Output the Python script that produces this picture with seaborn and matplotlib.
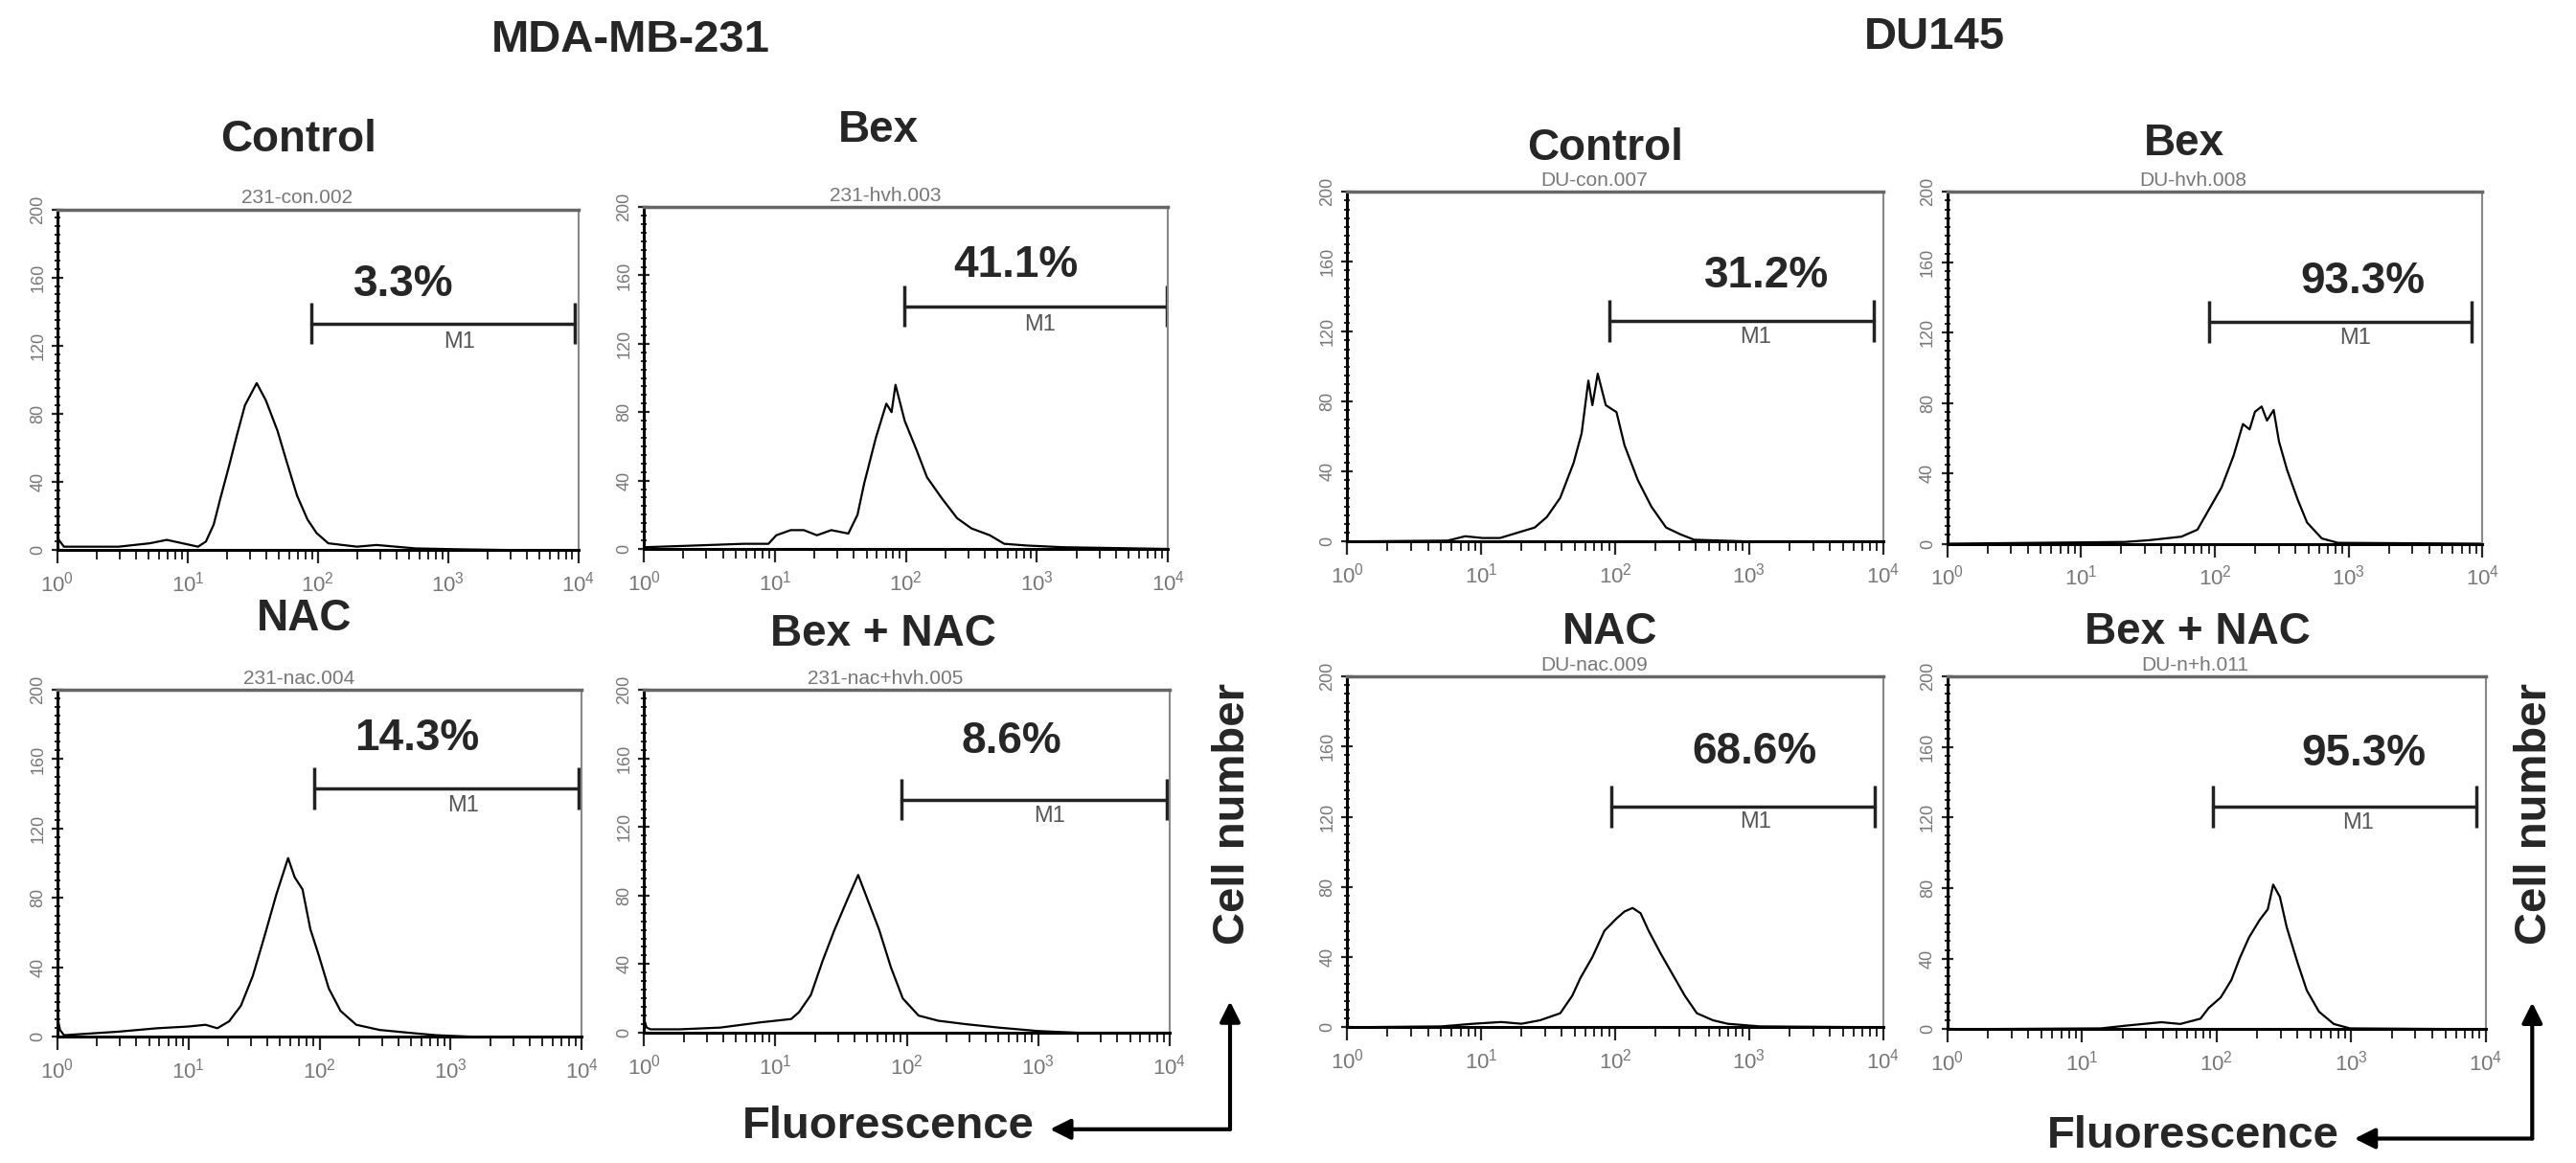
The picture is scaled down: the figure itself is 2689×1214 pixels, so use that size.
import numpy as np
import pandas as pd
import matplotlib
matplotlib.use("Agg")
import matplotlib.pyplot as plt
from matplotlib.ticker import MultipleLocator, LogLocator, NullFormatter
import seaborn as sns

# Datos: posición en décadas (log10 de fluorescencia) y número de células
mda_ctrl_logx = [0.0, 0.01, 0.05, 0.17, 0.47, 0.71, 0.84, 0.96, 1.08, 1.14, 1.20, 1.25, 1.32, 1.38, 1.44,
                 1.53, 1.60, 1.69, 1.76, 1.84, 1.92, 1.99, 2.08, 2.30, 2.45, 2.75, 3.06, 3.5, 4.0]
mda_ctrl_count = [10, 6, 2, 2, 2, 4, 6, 4, 2, 5, 15, 30, 50, 68, 85,
                  98, 88, 70, 52, 32, 18, 10, 4, 2, 3, 1, 0.5, 0, 0]

mda_bex_logx = [0.0, 0.39, 0.76, 0.95, 1.01, 1.12, 1.22, 1.32, 1.43, 1.56, 1.63, 1.68, 1.77, 1.85,
                1.89, 1.92, 1.99, 2.08, 2.16, 2.27, 2.39, 2.50, 2.64, 2.75, 2.92, 3.20, 4.0]
mda_bex_count = [1, 2, 3, 3, 8, 11, 11, 8, 11, 9, 20, 38, 65, 85,
                 80, 96, 75, 58, 42, 30, 18, 12, 8, 3, 2, 1, 0]

mda_nac_logx = [0.0, 0.02, 0.05, 0.46, 0.76, 1.00, 1.13, 1.22, 1.31, 1.40, 1.49, 1.58, 1.67, 1.76,
                1.81, 1.87, 1.93, 1.99, 2.07, 2.16, 2.28, 2.46, 2.74, 2.89, 3.2, 4.0]
mda_nac_count = [11, 4, 1, 3, 5, 6, 7, 5, 9, 18, 35, 58, 82, 103,
                 92, 85, 62, 48, 28, 15, 7, 4, 2, 1, 0, 0]

mda_bexnac_logx = [0.0, 0.02, 0.05, 0.27, 0.58, 0.88, 1.12, 1.18, 1.27, 1.36, 1.45, 1.55, 1.63, 1.70,
                   1.79, 1.88, 1.97, 2.09, 2.24, 2.45, 2.70, 3.00, 3.3, 4.0]
mda_bexnac_count = [8, 3, 2, 2, 3, 6, 8, 12, 22, 42, 60, 78, 92, 78,
                    60, 38, 20, 10, 7, 5, 3, 1, 0, 0]

du_ctrl_logx = [0.0, 0.75, 0.88, 1.01, 1.14, 1.27, 1.40, 1.49, 1.59, 1.69, 1.75, 1.80, 1.83, 1.87,
                1.93, 2.01, 2.07, 2.17, 2.27, 2.38, 2.49, 2.59, 3.0, 4.0]
du_ctrl_count = [0, 0.5, 3, 2, 2, 5, 8, 14, 25, 45, 62, 92, 78, 96,
                 78, 74, 55, 35, 20, 8, 4, 1, 0, 0]

du_bex_logx = [0.0, 1.33, 1.51, 1.75, 1.87, 1.96, 2.05, 2.14, 2.21, 2.26, 2.30, 2.35, 2.39, 2.44,
               2.48, 2.54, 2.62, 2.69, 2.80, 2.92, 4.0]
du_bex_count = [0, 1, 2, 4, 8, 20, 32, 50, 68, 65, 75, 78, 70, 76,
                58, 42, 25, 12, 3, 0.5, 0]

du_nac_logx = [0.0, 0.70, 0.94, 1.15, 1.30, 1.44, 1.59, 1.68, 1.74, 1.83, 1.92, 2.01, 2.07, 2.13,
               2.19, 2.25, 2.34, 2.43, 2.52, 2.61, 2.73, 2.84, 3.08, 4.0]
du_nac_count = [0, 0.5, 2, 3, 2, 4, 8, 18, 28, 40, 55, 62, 66, 68,
                65, 55, 42, 30, 18, 8, 4, 2, 0.5, 0]

du_bexnac_logx = [0.0, 1.14, 1.32, 1.59, 1.73, 1.88, 1.94, 2.03, 2.11, 2.17, 2.24, 2.32, 2.38, 2.42,
                  2.47, 2.52, 2.60, 2.67, 2.76, 2.87, 2.99, 4.0]
du_bexnac_count = [0, 0.5, 2, 4, 3, 6, 12, 18, 28, 40, 52, 62, 68, 82,
                   75, 58, 38, 22, 10, 3, 0.5, 0]

panel_titles = ["Control", "Bex", "NAC", "Bex + NAC", "Control", "Bex", "NAC", "Bex + NAC"]
sample_names = ["231-con.002", "231-hvh.003", "231-nac.004", "231-nac+hvh.005",
                "DU-con.007", "DU-hvh.008", "DU-nac.009", "DU-n+h.011"]
pct_labels = ["3.3%", "41.1%", "14.3%", "8.6%", "31.2%", "93.3%", "68.6%", "95.3%"]
# marcador M1 (inicio y fin en décadas, altura)
gate_start = [1.95, 1.99, 1.96, 1.96, 1.96, 1.96, 1.97, 1.97]
gate_end = [3.97, 3.99, 3.98, 3.98, 3.93, 3.92, 3.94, 3.93]
gate_level = [133, 142, 143, 136, 126, 126, 126, 126]

curves = [(mda_ctrl_logx, mda_ctrl_count), (mda_bex_logx, mda_bex_count),
          (mda_nac_logx, mda_nac_count), (mda_bexnac_logx, mda_bexnac_count),
          (du_ctrl_logx, du_ctrl_count), (du_bex_logx, du_bex_count),
          (du_nac_logx, du_nac_count), (du_bexnac_logx, du_bexnac_count)]

# Layout (coordenadas de figura)
axes_rects = [[0.0223, 0.527, 0.2022, 0.293], [0.250, 0.528, 0.2034, 0.294],
              [0.0223, 0.1084, 0.2035, 0.2986], [0.250, 0.112, 0.204, 0.295],
              [0.523, 0.5344, 0.208, 0.3006], [0.756, 0.5325, 0.2076, 0.3025],
              [0.523, 0.1167, 0.208, 0.3017], [0.756, 0.115, 0.209, 0.3034]]
title_pos = [(0.116, 0.880), (0.341, 0.8876), (0.118, 0.4675), (0.343, 0.455),
             (0.623, 0.8726), (0.848, 0.8767), (0.625, 0.456), (0.853, 0.456)]
pct_pos = [(2.66, 156), (2.835, 166), (2.74, 172), (2.80, 170),
           (3.13, 152), (3.11, 149), (3.04, 157), (3.09, 156)]
m1_pos = [(3.09, 122), (3.02, 131), (3.10, 133), (3.09, 126),
          (3.05, 117), (3.05, 117), (3.05, 117), (3.05, 117)]

sns.set_style("white")
plt.rcParams["font.family"] = ["Liberation Sans", "DejaVu Sans"]
plt.rcParams["mathtext.fontset"] = "custom"
plt.rcParams["mathtext.rm"] = "Liberation Sans"
plt.rcParams["mathtext.it"] = "Liberation Sans"

fig = plt.figure(figsize=(26.89, 12.14), dpi=100)

for i, rect in enumerate(axes_rects):
    ax = fig.add_axes(rect)
    lx, cnt = curves[i]
    df = pd.DataFrame({"fluor": np.power(10.0, lx), "cells": cnt})
    sns.lineplot(data=df, x="fluor", y="cells", ax=ax, color="black", lw=1.6, sort=False)
    ax.set_xscale("log")
    ax.set_xlim(1, 1e4)
    ax.set_ylim(0, 200)
    ax.set_xlabel("")
    ax.set_ylabel("")

    # marcador M1
    x0, x1, yg = 10 ** gate_start[i], 10 ** gate_end[i], gate_level[i]
    ax.plot([x0, x1], [yg, yg], color="#222222", lw=2.5)
    ax.vlines([x0, x1], yg - 12, yg + 12, color="#222222", lw=2.5)
    ax.text(10 ** m1_pos[i][0], m1_pos[i][1], "M1", fontsize=17, color="#555555",
            ha="center", va="center")
    ax.text(10 ** pct_pos[i][0], pct_pos[i][1], pct_labels[i], fontsize=33,
            fontweight="bold", ha="center", va="center")

    ax.text(0.46, 1.006, sample_names[i], transform=ax.transAxes, fontsize=15,
            color="#777777", ha="center", va="bottom")

    for side in ["left", "bottom"]:
        ax.spines[side].set_color("black")
        ax.spines[side].set_linewidth(2.2)
    ax.spines["top"].set_color("#666666")
    ax.spines["top"].set_linewidth(2.5)
    ax.spines["right"].set_color("#888888")
    ax.spines["right"].set_linewidth(1.5)

    ax.yaxis.set_major_locator(MultipleLocator(40))
    ax.yaxis.set_minor_locator(MultipleLocator(5))
    ax.xaxis.set_major_locator(LogLocator(base=10))
    ax.xaxis.set_minor_locator(LogLocator(base=10, subs=np.arange(2, 10)))
    ax.xaxis.set_minor_formatter(NullFormatter())
    ax.tick_params(axis="y", which="major", direction="inout", length=9, width=1.6,
                   labelsize=13, labelcolor="#777777", labelrotation=90, pad=4, left=True)
    ax.tick_params(axis="y", which="minor", direction="inout", length=5, width=1.4, left=True)
    ax.tick_params(axis="x", which="major", direction="out", length=10, width=1.6,
                   labelsize=16, labelcolor="#777777", pad=6, bottom=True)
    ax.tick_params(axis="x", which="minor", direction="out", length=7, width=1.4, bottom=True)
    for lbl in ax.get_yticklabels():
        lbl.set_va("center")

    fig.text(title_pos[i][0], title_pos[i][1], panel_titles[i], fontsize=33,
             fontweight="bold", ha="center", va="center")

fig.text(0.245, 0.965, "MDA-MB-231", fontsize=34, fontweight="bold", ha="center", va="center")
fig.text(0.751, 0.968, "DU145", fontsize=34, fontweight="bold", ha="center", va="center")

# ejes "Cell number" / "Fluorescence" con flechas
over = fig.add_axes([0, 0, 1, 1])
over.set_xlim(0, 1)
over.set_ylim(0, 1)
over.axis("off")
arrow_kw = dict(arrowstyle="-|>", lw=3, color="black", mutation_scale=32, shrinkA=0, shrinkB=0)
for cx, cy, tip_v, tip_h, fx, tx in [(0.4775, 0.029, 0.139, 0.4076, 0.345, 0.4786),
                                     (0.983, 0.021, 0.138, 0.914, 0.8515, 0.984)]:
    over.annotate("", xy=(cx, tip_v), xytext=(cx, cy), arrowprops=arrow_kw)
    over.annotate("", xy=(tip_h, cy), xytext=(cx, cy), arrowprops=arrow_kw)
    over.text(fx, cy + 0.002, "Fluorescence", fontsize=34, fontweight="bold",
              ha="center", va="center")
    over.text(tx, 0.30, "Cell number", fontsize=34, fontweight="bold", rotation=90,
              ha="center", va="center")

fig.savefig("out.png", dpi=100)
